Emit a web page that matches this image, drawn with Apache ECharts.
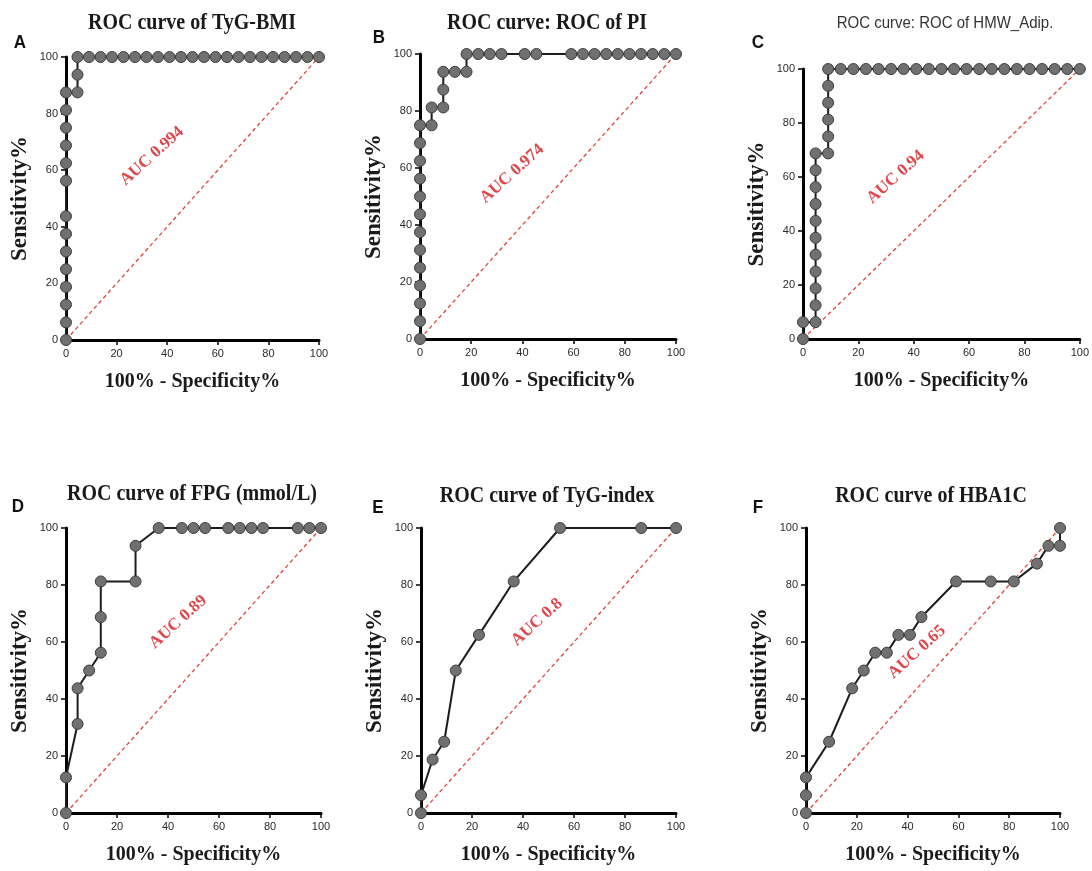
<!DOCTYPE html>
<html>
<head>
<meta charset="utf-8">
<script src="https://cdn.jsdelivr.net/npm/echarts@6/dist/echarts.min.js"></script>
<style>
  html, body { margin: 0; padding: 0; background: #fff; }
  #chart { width: 1092px; height: 871px; }
</style>
</head>
<body>
<div id="chart"></div>
<script>
// ---- Panel text ----
const panelLetters = ['A', 'B', 'C', 'D', 'E', 'F'];
const panelTitles = [
  'ROC curve of TyG-BMI',
  'ROC curve: ROC of PI',
  'ROC curve: ROC of HMW_Adip.',
  'ROC curve of FPG (mmol/L)',
  'ROC curve of TyG-index',
  'ROC curve of HBA1C'
];
const aucValues = [0.994, 0.974, 0.94, 0.89, 0.8, 0.65];
const axisTickValues = [0, 20, 40, 60, 80, 100];
const xAxisTitle = '100% - Specificity%';
const yAxisTitle = 'Sensitivity%';

// ---- ROC points: 100% - Specificity% (x) and Sensitivity% (y) ----
const tygBmiX = [0, 0, 0, 0, 0, 0, 0, 0, 0, 0, 0, 0, 0, 0, 4.55, 4.55, 4.55,
  9.09, 13.64, 18.18, 22.73, 27.27, 31.82, 36.36, 40.91, 45.45, 50, 54.55,
  59.09, 63.64, 68.18, 72.73, 77.27, 81.82, 86.36, 90.91, 95.45, 100];
const tygBmiY = [0, 6.25, 12.5, 18.75, 25, 31.25, 37.5, 43.75, 56.25, 62.5, 68.75, 75, 81.25, 87.5, 87.5, 93.75, 100,
  100, 100, 100, 100, 100, 100, 100, 100, 100, 100, 100,
  100, 100, 100, 100, 100, 100, 100, 100, 100, 100];

const piX = [0, 0, 0, 0, 0, 0, 0, 0, 0, 0, 0, 0, 0, 4.55, 4.55, 9.09, 9.09, 9.09, 13.64, 18.18, 18.18,
  22.73, 27.27, 31.82, 40.91, 45.45, 59.09, 63.64, 68.18, 72.73, 77.27, 81.82, 86.36, 90.91, 95.45, 100];
const piY = [0, 6.25, 12.5, 18.75, 25, 31.25, 37.5, 43.75, 50, 56.25, 62.5, 68.75, 75, 75, 81.25, 81.25, 87.5, 93.75, 93.75, 93.75, 100,
  100, 100, 100, 100, 100, 100, 100, 100, 100, 100, 100, 100, 100, 100, 100];

const hmwAdipX = [0, 0, 4.55, 4.55, 4.55, 4.55, 4.55, 4.55, 4.55, 4.55, 4.55, 4.55, 4.55,
  9.09, 9.09, 9.09, 9.09, 9.09, 9.09,
  13.64, 18.18, 22.73, 27.27, 31.82, 36.36, 40.91, 45.45, 50, 54.55,
  59.09, 63.64, 68.18, 72.73, 77.27, 81.82, 86.36, 90.91, 95.45, 100];
const hmwAdipY = [0, 6.25, 6.25, 12.5, 18.75, 25, 31.25, 37.5, 43.75, 50, 56.25, 62.5, 68.75,
  68.75, 75, 81.25, 87.5, 93.75, 100,
  100, 100, 100, 100, 100, 100, 100, 100, 100, 100,
  100, 100, 100, 100, 100, 100, 100, 100, 100, 100];

const fpgX = [0, 0, 4.55, 4.55, 9.09, 13.64, 13.64, 13.64, 27.27, 27.27, 36.36,
  45.45, 50, 54.55, 63.64, 68.18, 72.73, 77.27, 90.91, 95.45, 100];
const fpgY = [0, 12.5, 31.25, 43.75, 50, 56.25, 68.75, 81.25, 81.25, 93.75, 100,
  100, 100, 100, 100, 100, 100, 100, 100, 100, 100];

const tygIndexX = [0, 0, 4.55, 9.09, 13.64, 22.73, 36.36, 54.55, 86.36, 100];
const tygIndexY = [0, 6.25, 18.75, 25, 50, 62.5, 81.25, 100, 100, 100];

const hba1cX = [0, 0, 0, 9.09, 18.18, 22.73, 27.27, 31.82, 36.36, 40.91, 45.45,
  59.09, 72.73, 81.82, 90.91, 95.45, 100, 100];
const hba1cY = [0, 6.25, 12.5, 25, 43.75, 50, 56.25, 56.25, 62.5, 62.5, 68.75,
  81.25, 81.25, 81.25, 87.5, 93.75, 93.75, 100];

const panelX = [tygBmiX, piX, hmwAdipX, fpgX, tygIndexX, hba1cX];
const panelY = [tygBmiY, piY, hmwAdipY, fpgY, tygIndexY, hba1cY];

// ---- Layout of the six plots (pixels) and where each AUC note sits (axis units) ----
const layout = [
  { left: 66,  top: 57,  width: 253, height: 283, titleX: 192, titleY: 23,  letterX: 20,  letterY: 43,  aucAt: [34, 65] },
  { left: 420, top: 54,  width: 256, height: 285, titleX: 547, titleY: 23,  letterX: 379, letterY: 38,  aucAt: [36, 58] },
  { left: 803, top: 69,  width: 281, height: 270, titleX: 945, titleY: 23,  letterX: 758, letterY: 43,  aucAt: [33.5, 60] },
  { left: 66,  top: 528, width: 255, height: 285, titleX: 192, titleY: 494, letterX: 18,  letterY: 507, aucAt: [44, 67] },
  { left: 421, top: 528, width: 255, height: 285, titleX: 547, titleY: 496, letterX: 378, letterY: 508, aucAt: [45.5, 67] },
  { left: 806, top: 528, width: 254, height: 285, titleX: 931, titleY: 496, letterX: 758, letterY: 508, aucAt: [43.7, 56.5] }
];

const serif = "'Liberation Serif', 'Times New Roman', serif";
const sans = "'Liberation Sans', Arial, sans-serif";
const narrow = "'Liberation Sans Narrow', 'Arial Narrow', 'Liberation Sans', sans-serif";

const grids = [], xAxes = [], yAxes = [], series = [], graphics = [];

function axisBase(gridIndex, name, nameGap) {
  return {
    gridIndex: gridIndex,
    type: 'value',
    min: axisTickValues[0],
    max: axisTickValues[axisTickValues.length - 1],
    interval: axisTickValues[1] - axisTickValues[0],
    name: name,
    nameLocation: 'middle',
    nameGap: nameGap,
    nameTextStyle: { fontFamily: serif, fontWeight: 'bold', color: '#1a1a1a' },
    axisLine: { show: true, onZero: false, lineStyle: { color: '#000', width: 3 } },
    axisTick: { show: true, length: 5, lineStyle: { color: '#000', width: 1.5 } },
    axisLabel: { margin: 8, color: '#2a2a2a', fontSize: 11, fontFamily: narrow },
    splitLine: { show: false }
  };
}

layout.forEach(function (L, i) {
  grids.push({ left: L.left, top: L.top, width: L.width, height: L.height, containLabel: false });

  const xa = axisBase(i, xAxisTitle, 32);
  xa.nameTextStyle.fontSize = 20;
  xAxes.push(xa);

  const ya = axisBase(i, yAxisTitle, 34);
  ya.nameTextStyle.fontSize = 23;
  yAxes.push(ya);

  // chance diagonal
  series.push({
    type: 'line', xAxisIndex: i, yAxisIndex: i, z: 1, silent: true,
    data: [[axisTickValues[0], axisTickValues[0]], [axisTickValues[5], axisTickValues[5]]],
    symbol: 'none', clip: false,
    lineStyle: { color: '#e0443f', width: 1.3, type: [4, 3] }
  });

  // ROC curve
  const pts = panelX[i].map(function (x, k) { return [x, panelY[i][k]]; });
  series.push({
    type: 'line', xAxisIndex: i, yAxisIndex: i, z: 2, clip: false,
    data: pts,
    symbol: 'circle', symbolSize: 11, showAllSymbol: true,
    lineStyle: { color: '#1c1c1c', width: 2 },
    itemStyle: { color: '#707070', borderColor: '#3e3e3e', borderWidth: 1 }
  });

  // AUC note
  series.push({
    type: 'scatter', xAxisIndex: i, yAxisIndex: i, z: 3, silent: true,
    symbolSize: 0,
    data: [{ value: L.aucAt }],
    label: {
      show: true, position: 'inside', rotate: 42,
      formatter: 'AUC ' + aucValues[i],
      color: '#d71920', fontFamily: serif, fontWeight: 'bold', fontSize: 17
    }
  });

  // panel title and letter
  const isSansTitle = (i === 2);
  graphics.push({
    type: 'text', x: L.titleX, y: L.titleY, scaleY: isSansTitle ? 1.1 : 1.2,
    style: {
      text: panelTitles[i], align: 'center', verticalAlign: 'middle',
      fill: isSansTitle ? '#333' : '#1a1a1a',
      fontFamily: isSansTitle ? sans : serif,
      fontWeight: isSansTitle ? 'normal' : 'bold',
      fontSize: isSansTitle ? 15 : 20
    }
  });
  graphics.push({
    type: 'text', x: L.letterX, y: L.letterY, scaleY: 1.1,
    style: {
      text: panelLetters[i], align: 'center', verticalAlign: 'middle',
      fill: '#111', fontFamily: sans, fontWeight: 'bold', fontSize: 17
    }
  });
});

const chart = echarts.init(document.getElementById('chart'), null, { renderer: 'canvas' });
chart.setOption({
  backgroundColor: '#ffffff',
  animation: false,
  grid: grids,
  xAxis: xAxes,
  yAxis: yAxes,
  series: series,
  graphic: graphics
});
</script>
</body>
</html>
